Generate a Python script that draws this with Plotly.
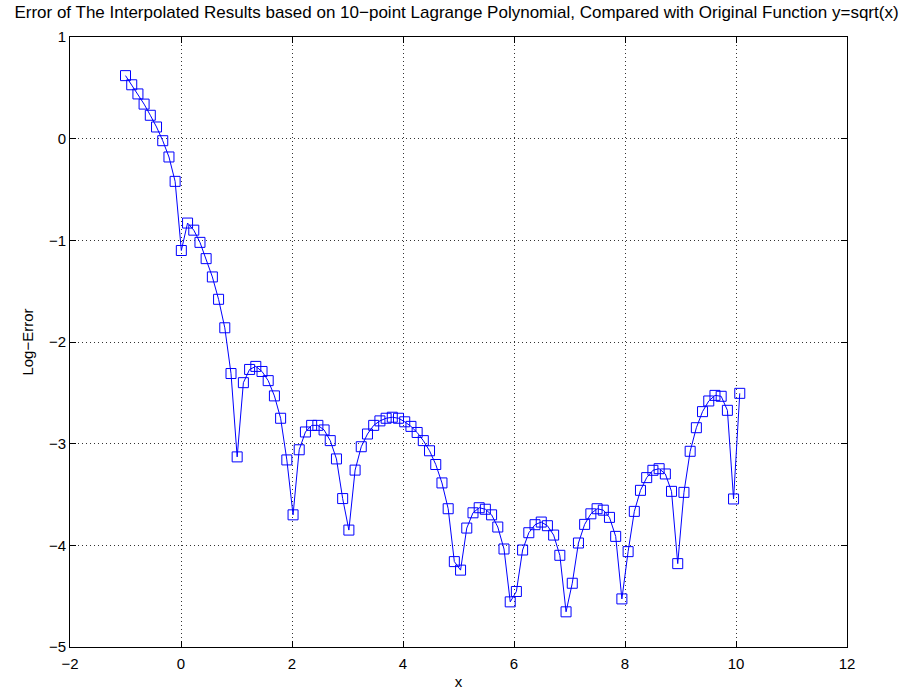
import plotly.graph_objects as go

x_vals = [-1.000, -0.888, -0.776, -0.665, -0.553, -0.441, -0.329, -0.217, -0.106, 0.006,
          0.118, 0.230, 0.342, 0.453, 0.565, 0.677, 0.789, 0.901, 1.012, 1.124,
          1.236, 1.348, 1.460, 1.571, 1.683, 1.795, 1.907, 2.019, 2.130, 2.242,
          2.354, 2.466, 2.578, 2.689, 2.801, 2.913, 3.025, 3.137, 3.248, 3.360,
          3.472, 3.584, 3.696, 3.807, 3.919, 4.031, 4.143, 4.255, 4.366, 4.478,
          4.590, 4.702, 4.814, 4.925, 5.037, 5.149, 5.261, 5.373, 5.484, 5.596,
          5.708, 5.820, 5.932, 6.043, 6.155, 6.267, 6.379, 6.491, 6.602, 6.714,
          6.826, 6.938, 7.050, 7.161, 7.273, 7.385, 7.497, 7.609, 7.720, 7.832,
          7.944, 8.056, 8.168, 8.279, 8.391, 8.503, 8.615, 8.727, 8.838, 8.950,
          9.062, 9.174, 9.286, 9.397, 9.509, 9.621, 9.733, 9.845, 9.956, 10.068]

log_error = [0.62, 0.53, 0.44, 0.34, 0.23, 0.115, -0.02, -0.18, -0.42, -1.10,
             -0.83, -0.90, -1.02, -1.18, -1.36, -1.58, -1.86, -2.31, -3.13, -2.40,
             -2.27, -2.24, -2.29, -2.38, -2.53, -2.75, -3.16, -3.70, -3.06, -2.885,
             -2.82, -2.82, -2.865, -2.97, -3.15, -3.54, -3.85, -3.26, -3.03, -2.905,
             -2.82, -2.776, -2.75, -2.74, -2.75, -2.785, -2.83, -2.89, -2.97, -3.07,
             -3.205, -3.386, -3.64, -4.16, -4.244, -3.83, -3.68, -3.63, -3.645, -3.70,
             -3.82, -4.036, -4.556, -4.454, -4.046, -3.876, -3.797, -3.771, -3.807, -3.899,
             -4.098, -4.654, -4.373, -3.977, -3.794, -3.69, -3.64, -3.654, -3.725, -3.912,
             -4.527, -4.062, -3.666, -3.459, -3.334, -3.262, -3.246, -3.298, -3.469, -4.18,
             -3.479, -3.075, -2.843, -2.685, -2.58, -2.525, -2.534, -2.672, -3.544, -2.505]

x_ticks = [-2, 0, 2, 4, 6, 8, 10, 12]
x_ticklabels = ["\u22122", "0", "2", "4", "6", "8", "10", "12"]
y_ticks = [1, 0, -1, -2, -3, -4, -5]
y_ticklabels = ["1", "0", "\u22121", "\u22122", "\u22123", "\u22124", "\u22125"]

title_text = ("Error of The Interpolated Results based on 10\u2212point Lagrange Polynomial, "
              "Compared with Original Function y=sqrt(x)")

fig = go.Figure()
fig.add_trace(go.Scatter(
    x=x_vals, y=log_error, mode="lines+markers",
    line=dict(color="#0000ff", width=1),
    marker=dict(symbol="square-open", size=10, color="#0000ff", line=dict(width=1, color="#0000ff")),
    showlegend=False,
))

font_family = "Liberation Sans, Arial, sans-serif"
axis_common = dict(
    showline=True, linecolor="black", linewidth=1, mirror="ticks",
    ticks="inside", ticklen=6, tickcolor="black", automargin=False,
    showgrid=True, gridcolor="rgba(0,0,0,0.8)", griddash="1px,3px", gridwidth=1,
    zeroline=False, tickfont=dict(family=font_family, size=15, color="black"),
)

fig.update_layout(
    width=913, height=690,
    paper_bgcolor="white", plot_bgcolor="white",
    margin=dict(l=70, r=66, t=37, b=43),
    title=dict(text=title_text, x=0.5, xref="container", xanchor="center",
               y=1 - 12 / 690, yref="container", yanchor="middle",
               font=dict(family=font_family, size=17, color="black")),
    font=dict(family=font_family, size=15, color="black"),
    xaxis=dict(range=[-2, 12], tickvals=x_ticks, ticktext=x_ticklabels,
               ticklabelstandoff=3,
               title=dict(text="x", standoff=8, font=dict(family=font_family, size=15)),
               **axis_common),
    yaxis=dict(range=[-5, 1], tickvals=y_ticks, ticktext=y_ticklabels,
               title=dict(text="Log\u2212Error", standoff=11, font=dict(family=font_family, size=15)),
               **axis_common),
)

# remove the browser's default 8px body margin so the figure fills the window exactly
fig.write_html("out.html", config={"displayModeBar": False},
               post_script="document.body.style.margin='0';")
